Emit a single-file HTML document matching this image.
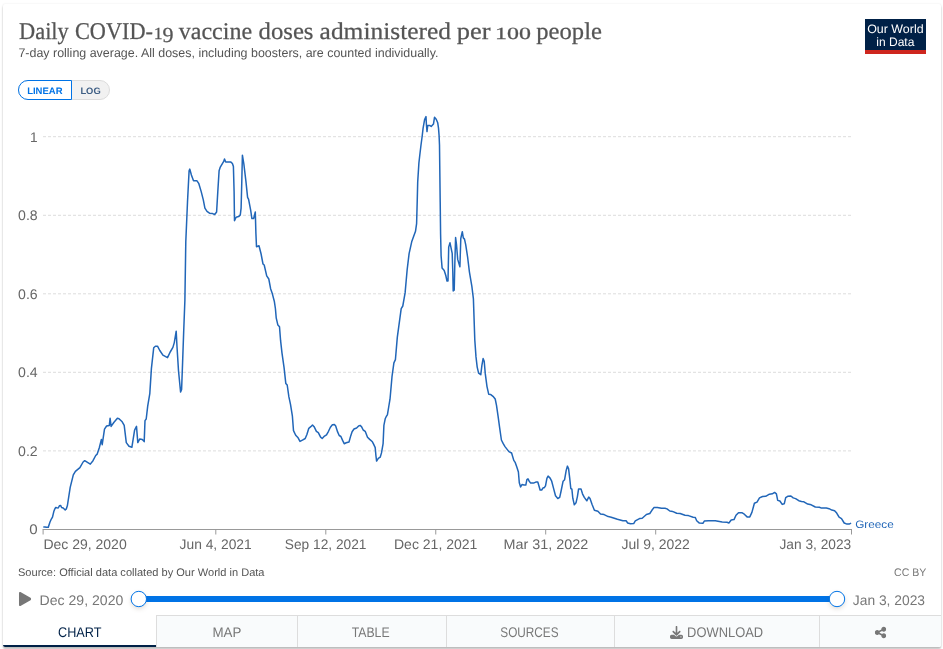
<!DOCTYPE html>
<html lang="en">
<head>
<meta charset="utf-8">
<title>Daily COVID-19 vaccine doses administered per 100 people</title>
<style>
html,body{margin:0;padding:0;background:#fff;}
body{width:943px;height:649px;position:relative;overflow:hidden;font-family:"Liberation Sans",sans-serif;color:#555;}
#frame{position:absolute;left:3px;top:4px;width:938px;height:643px;background:#fff;border-radius:2px;
  box-shadow:0 0 2px rgba(0,0,0,.1),0 2px 2px rgba(0,0,0,.25);}
svg{position:absolute;left:0;top:0;}
svg text{font-family:"Liberation Sans",sans-serif;white-space:pre;text-rendering:geometricPrecision;}
svg text.serif{font-family:"Liberation Serif",serif;}
#logo{position:absolute;left:865px;top:19px;width:61px;height:35px;background:#002147;}
#logo .red{position:absolute;left:0;right:0;bottom:0;height:4px;background:#ce261e;}
#toggle{position:absolute;left:18px;top:80px;width:92px;height:20px;border-radius:10px;background:#f1f1f1;box-sizing:border-box;border:1px solid #dcdcdc;}
#toggle .lin{position:absolute;left:-1px;top:-1px;width:54.2px;height:20px;box-sizing:border-box;border:1px solid #0073e6;border-radius:10px 0 0 10px;background:#fff;}
#tabs{position:absolute;left:3px;top:615px;width:938px;height:32px;border-radius:0 0 2px 2px;overflow:hidden;}
.tab{position:absolute;top:0;height:32px;box-sizing:border-box;background:#f9fbfc;border-top:1px solid #ddd;border-left:1px solid #ddd;}
.tab.active{background:#fff;border:0;border-bottom:2px solid #002147;}
</style>
</head>
<body>
<div id="frame"></div>
<div id="logo"><div class="red"></div></div>
<div id="toggle"><div class="lin"></div></div>
<div id="tabs">
  <div class="tab active" style="left:0;width:153px"></div>
  <div class="tab" style="left:153px;width:141px"></div>
  <div class="tab" style="left:294px;width:149px"></div>
  <div class="tab" style="left:443px;width:168px"></div>
  <div class="tab" style="left:611px;width:205px"></div>
  <div class="tab" style="left:816px;width:122px"></div>
</div>
<svg width="943" height="649" viewBox="0 0 943 649">
  <text class="serif" fill="#555" stroke="#555" stroke-width="0.25"><tspan x="19.0" y="38.7" font-size="24" textLength="49.8" lengthAdjust="spacingAndGlyphs">Daily</tspan> <tspan x="75.0" y="38.7" font-size="24" textLength="77.9" lengthAdjust="spacingAndGlyphs">COVID-</tspan><tspan x="153.7" y="38.7" font-size="17" textLength="8.9" lengthAdjust="spacingAndGlyphs">1</tspan><tspan x="162.5" y="42.3" font-size="21.5" textLength="11.0" lengthAdjust="spacingAndGlyphs">9</tspan> <tspan x="178.8" y="38.7" font-size="24" textLength="73.3" lengthAdjust="spacingAndGlyphs">vaccine</tspan> <tspan x="258.6" y="38.7" font-size="24" textLength="54.9" lengthAdjust="spacingAndGlyphs">doses</tspan> <tspan x="319.6" y="38.7" font-size="24" textLength="131.4" lengthAdjust="spacingAndGlyphs">administered</tspan> <tspan x="456.7" y="38.7" font-size="24" textLength="33.8" lengthAdjust="spacingAndGlyphs">per</tspan> <tspan x="495.1" y="38.7" font-size="17" textLength="35.9" lengthAdjust="spacingAndGlyphs">100</tspan> <tspan x="536.3" y="38.7" font-size="24" textLength="65.6" lengthAdjust="spacingAndGlyphs">people</tspan></text>
  <text x="18.4" y="57.2" font-size="12.5" fill="#545454" textLength="420.0" lengthAdjust="spacingAndGlyphs" >7-day rolling average. All doses, including boosters, are counted individually.</text>
  <text x="867.2" y="32.9" font-size="12.2" fill="#fff" textLength="56.4" lengthAdjust="spacingAndGlyphs" >Our World</text>
  <text x="876.3" y="46.1" font-size="12.2" fill="#fff" textLength="38.1" lengthAdjust="spacingAndGlyphs" >in Data</text>
  <text x="27.2" y="93.6" font-size="9.3" fill="#0073e6" textLength="35.3" lengthAdjust="spacingAndGlyphs" font-weight="bold">LINEAR</text>
  <text x="80.4" y="93.6" font-size="9.3" fill="#3f5f85" textLength="20.3" lengthAdjust="spacingAndGlyphs" font-weight="bold">LOG</text>
  <g stroke="#ddd" stroke-dasharray="3,2" stroke-width="1" fill="none"><path d="M43 136.7H851"/><path d="M43 215.3H851"/><path d="M43 293.8H851"/><path d="M43 372.3H851"/><path d="M43 450.9H851"/></g>
  <g font-family="Liberation Sans, sans-serif">
  <text x="30.1" y="141.6" font-size="14" fill="#666" textLength="7.6" lengthAdjust="spacingAndGlyphs" >1</text>
  <text x="18.1" y="220.2" font-size="14" fill="#666" textLength="19.6" lengthAdjust="spacingAndGlyphs" >0.8</text>
  <text x="18.1" y="298.7" font-size="14" fill="#666" textLength="19.6" lengthAdjust="spacingAndGlyphs" >0.6</text>
  <text x="18.1" y="377.2" font-size="14" fill="#666" textLength="19.6" lengthAdjust="spacingAndGlyphs" >0.4</text>
  <text x="18.1" y="455.8" font-size="14" fill="#666" textLength="19.6" lengthAdjust="spacingAndGlyphs" >0.2</text>
  <text x="29.3" y="534.4" font-size="14" fill="#666" textLength="8.4" lengthAdjust="spacingAndGlyphs" >0</text>
  </g>
  <path d="M42.6 529.5H852" stroke="#999" stroke-width="1" fill="none"/>
  <path d="M43.1 529.5v5M215.8 529.5v5M325.8 529.5v5M435.75 529.5v5M545.7 529.5v5M655.7 529.5v5M851.5 529.5v5" stroke="#999" stroke-width="1" fill="none"/>
  <text x="43.4" y="548.7" font-size="14" fill="#666" textLength="83.3" lengthAdjust="spacingAndGlyphs" >Dec 29, 2020</text>
  <text x="179.6" y="548.7" font-size="14" fill="#666" textLength="72.1" lengthAdjust="spacingAndGlyphs" >Jun 4, 2021</text>
  <text x="284.8" y="548.7" font-size="14" fill="#666" textLength="81.6" lengthAdjust="spacingAndGlyphs" >Sep 12, 2021</text>
  <text x="394.0" y="548.7" font-size="14" fill="#666" textLength="83.4" lengthAdjust="spacingAndGlyphs" >Dec 21, 2021</text>
  <text x="503.5" y="548.7" font-size="14" fill="#666" textLength="84.7" lengthAdjust="spacingAndGlyphs" >Mar 31, 2022</text>
  <text x="621.6" y="548.7" font-size="14" fill="#666" textLength="68.2" lengthAdjust="spacingAndGlyphs" >Jul 9, 2022</text>
  <text x="779.5" y="548.7" font-size="14" fill="#666" textLength="71.7" lengthAdjust="spacingAndGlyphs" >Jan 3, 2023</text>
  <path id="line" d="M43.3 527.0L45.0 527.0L46.3 527.3L48.3 527.3L49.9 522.2L51.0 519.7L52.5 517.2L53.8 511.6L54.6 509.4L55.7 507.5L56.9 507.8L58.2 508.0L59.4 505.8L60.7 505.5L61.6 507.5L63.2 508.0L65.2 510.0L66.3 508.9L67.4 505.5L70.2 487.4L73.3 474.9L75.4 471.3L79.9 467.6L83.1 462.0L84.7 460.7L90.3 464.1L93.0 460.7L95.7 455.5L97.2 454.1L99.3 447.8L101.4 439.5L102.2 444.7L104.5 429.1L106.6 426.0L109.3 425.4L110.1 418.3L111.1 426.4L113.8 422.5L117.4 418.3L119.0 418.7L122.2 421.8L124.2 425.4L126.3 442.6L129.0 446.2L131.9 447.2L134.6 430.2L136.5 426.4L137.8 442.6L139.8 438.9L142.3 439.5L144.2 441.6L145.0 420.6L146.2 419.0L147.7 406.1L149.8 393.6L151.4 368.6L153.7 347.8L155.4 346.2L157.5 346.2L159.8 350.5L162.9 355.1L167.5 357.6L170.2 352.0L172.9 347.4L174.3 342.6L176.2 331.2L177.0 346.8L178.5 370.7L180.6 392.1L181.6 389.4L182.6 362.4L183.7 331.2L184.9 300.0L185.8 241.5L187.5 202.0L189.1 170.8L189.8 169.1L191.4 175.0L193.5 180.8L197.0 180.8L198.7 183.3L201.2 191.6L203.3 199.9L204.9 208.2L207.0 211.4L209.5 213.2L212.6 213.6L214.7 214.5L216.6 212.0L217.8 191.6L219.1 170.8L220.3 167.1L223.7 161.4L224.5 158.9L225.7 162.1L228.2 161.9L230.9 162.1L232.4 163.5L233.4 166.6L234.1 191.6L234.5 220.7L236.1 217.2L238.6 216.6L240.3 214.9L241.1 208.2L241.8 181.2L242.4 155.2L243.8 163.5L245.9 181.2L247.6 197.4L248.6 199.3L250.7 210.3L251.9 218.6L253.6 218.6L255.3 212.0L255.9 233.2L256.5 246.7L259.0 245.7L261.1 254.0L263.0 264.0L264.2 265.0L266.7 275.8L268.8 279.0L270.6 288.7L272.1 292.9L274.3 301.2L275.4 308.5L276.2 317.8L277.9 325.1L279.5 326.8L280.6 340.7L282.0 353.2L284.1 367.8L285.8 383.4L287.2 385.0L288.9 396.9L290.5 404.4L292.4 416.2L293.5 430.6L295.7 435.2L298.1 437.8L300.0 441.4L302.9 439.8L305.2 438.5L306.9 434.5L308.8 428.3L310.8 426.7L312.5 425.0L314.1 426.7L316.4 431.3L318.3 432.6L320.6 437.2L322.2 438.5L324.5 436.1L326.5 434.8L328.5 431.3L330.4 427.3L332.4 424.7L334.4 424.5L335.7 426.0L337.6 431.9L339.2 435.5L340.9 436.5L342.6 440.4L344.2 443.7L346.2 442.8L349.0 442.0L350.7 435.9L352.1 431.7L354.0 429.0L356.6 428.0L358.6 426.0L360.2 425.4L361.5 426.7L363.2 430.0L365.2 431.3L367.5 437.2L369.7 439.4L372.4 441.8L373.7 444.4L375.2 447.6L375.9 455.5L376.6 461.1L378.3 458.4L380.2 457.2L381.5 452.9L383.1 443.7L383.9 425.4L385.2 418.8L386.4 416.2L387.4 414.9L388.7 407.0L390.0 399.2L392.0 376.7L393.9 362.8L395.4 359.7L397.3 337.4L401.2 308.6L402.8 306.0L405.1 292.9L407.2 269.3L409.1 253.6L411.7 241.8L415.5 231.3L416.6 223.7L417.2 202.1L417.7 182.0L418.9 163.0L419.8 155.0L421.0 145.0L422.2 136.0L423.1 128.1L424.6 119.6L426.0 116.6L426.4 124.3L427.0 131.6L427.7 125.6L429.6 125.4L431.2 126.4L432.3 125.2L433.5 123.9L434.5 117.3L436.2 119.2L437.7 122.7L438.5 128.1L439.1 135.8L439.5 145.0L439.8 169.8L440.2 202.1L440.6 234.5L441.1 255.7L442.1 268.1L444.2 270.5L445.8 275.5L447.0 281.0L448.0 281.0L448.7 247.1L450.0 242.8L452.2 253.3L452.8 271.8L453.2 290.9L454.2 290.2L454.9 260.7L455.6 237.5L456.5 244.6L457.7 259.4L459.9 266.8L460.8 238.5L462.3 231.7L463.3 237.9L464.5 239.1L465.7 244.6L467.6 257.0L469.4 271.8L471.9 286.6L473.4 298.9L474.8 340.0L476.0 356.9L477.2 367.1L478.6 373.1L480.8 374.7L481.9 365.4L483.1 358.6L484.2 361.2L485.3 373.9L487.0 386.6L488.7 394.2L490.8 394.6L493.0 396.3L495.2 399.0L496.5 405.3L498.1 416.3L499.7 428.1L501.4 440.0L503.1 443.4L505.0 446.6L508.9 451.6L511.6 453.0L513.8 460.4L515.3 462.7L516.9 467.3L518.4 472.0L519.3 482.8L520.6 486.9L522.0 484.6L524.0 485.1L525.8 485.1L526.9 479.7L528.0 478.9L529.2 481.2L530.7 483.1L533.5 483.1L535.8 482.1L537.8 482.0L538.9 485.8L540.1 490.0L541.7 490.0L543.1 487.8L544.3 487.7L545.5 485.8L546.9 478.4L548.1 476.1L550.1 478.1L551.7 481.2L553.5 488.1L555.5 495.8L557.8 498.5L559.7 497.4L561.2 490.5L563.1 481.2L564.6 479.7L566.2 470.4L567.4 466.1L568.6 468.9L569.7 478.1L570.8 488.5L571.9 489.2L572.8 498.2L574.3 504.8L576.0 502.8L577.4 496.6L578.6 488.9L581.0 488.9L582.5 493.8L584.3 497.4L586.8 500.8L588.7 497.1L590.0 498.6L592.0 504.3L594.4 510.2L597.9 511.2L600.5 513.9L604.1 514.6L608.2 516.6L611.2 517.2L617.4 519.3L622.9 520.8L626.1 520.8L627.7 523.0L630.5 523.8L633.7 523.6L635.3 520.9L639.5 518.6L642.2 518.2L646.4 514.5L649.8 513.5L651.9 510.3L653.9 507.6L657.4 507.4L661.5 508.3L665.0 508.3L667.0 508.9L669.8 511.0L672.5 511.4L676.7 513.2L680.1 513.5L685.0 515.3L688.4 515.6L693.2 517.2L695.3 517.5L696.7 520.7L699.4 523.1L702.9 523.3L704.3 521.1L708.4 520.7L715.3 520.8L722.2 521.9L727.0 522.3L728.9 523.0L731.2 520.0L734.0 519.6L736.0 515.2L738.5 512.8L741.8 512.7L744.3 514.2L747.1 516.9L749.8 516.9L751.9 512.4L754.4 503.2L757.0 502.1L759.5 497.9L762.5 496.5L765.7 496.3L769.4 494.2L772.3 493.8L774.6 492.4L776.4 493.8L777.7 500.4L779.9 501.0L782.2 504.4L784.3 503.7L785.7 497.6L787.7 496.3L790.9 496.0L793.2 497.9L795.6 498.6L798.8 500.7L801.5 501.5L803.9 501.8L807.7 504.1L811.2 504.8L815.3 507.0L819.4 507.3L821.5 508.1L826.3 508.0L829.1 508.7L831.8 510.1L834.6 510.7L836.7 513.1L839.1 517.2L841.5 518.6L844.2 523.0L847.0 524.1L849.1 524.1L851.1 523.1" fill="none" stroke="#2166b8" stroke-width="1.5" stroke-linejoin="round"/>
  <text x="855.2" y="527.5" font-size="10.8" fill="#2166b8" textLength="38.5" lengthAdjust="spacingAndGlyphs" >Greece</text>
  <text x="18.0" y="576" font-size="11" fill="#545454" textLength="246.5" lengthAdjust="spacingAndGlyphs" >Source: Official data collated by Our World in Data</text>
  <text x="894.0" y="576" font-size="11" fill="#777" textLength="32.3" lengthAdjust="spacingAndGlyphs" >CC BY</text>
  <svg x="18.9" y="592" width="12.25" height="14" viewBox="0 0 448 512"><path fill="#777" d="M424.400 214.700L72.400 6.600C43.800-10.300 0 6.100 0 47.900V464c0 37.500 40.700 60.100 72.400 41.300l352-208c31.400-18.500 31.500-64.100 0-82.600z"/></svg>
  <text x="39.6" y="604.7" font-size="14" fill="#777" textLength="83.7" lengthAdjust="spacingAndGlyphs" >Dec 29, 2020</text>
  <text x="852.8" y="604.7" font-size="14" fill="#777" textLength="72.2" lengthAdjust="spacingAndGlyphs" >Jan 3, 2023</text>
  <rect x="139" y="596" width="698" height="6" fill="#0073e6"/>
  <g style="filter:drop-shadow(0 2px 2px rgba(90,60,30,.16))"><circle cx="138.8" cy="599" r="7.7" fill="#fff" stroke="#0073e6" stroke-width="1"/><circle cx="837" cy="599" r="7.7" fill="#fff" stroke="#0073e6" stroke-width="1"/></g>
  <text x="58.0" y="637.1" font-size="14" fill="#002147" textLength="43.4" lengthAdjust="spacingAndGlyphs" >CHART</text>
  <text x="212.5" y="637.1" font-size="14" fill="#777" textLength="28.9" lengthAdjust="spacingAndGlyphs" >MAP</text>
  <text x="351.7" y="637.1" font-size="14" fill="#777" textLength="37.9" lengthAdjust="spacingAndGlyphs" >TABLE</text>
  <text x="500.3" y="637.1" font-size="14" fill="#777" textLength="58.2" lengthAdjust="spacingAndGlyphs" >SOURCES</text>
  <text x="687.1" y="637.1" font-size="14" fill="#777" textLength="76.0" lengthAdjust="spacingAndGlyphs" >DOWNLOAD</text>
  <svg x="670" y="625.9" width="13" height="13" viewBox="0 0 512 512"><path fill="#777" d="M288 32c0-17.700-14.300-32-32-32s-32 14.300-32 32V274.700l-73.400-73.400c-12.500-12.500-32.800-12.500-45.300 0s-12.500 32.800 0 45.300l128 128c12.500 12.500 32.800 12.500 45.300 0l128-128c12.500-12.500 12.500-32.800 0-45.300s-32.800-12.500-45.300 0L288 274.700V32zM64 352c-35.300 0-64 28.700-64 64v32c0 35.300 28.700 64 64 64H448c35.300 0 64-28.700 64-64V416c0-35.300-28.700-64-64-64H346.500l-45.300 45.300c-25 25-65.500 25-90.500 0L165.500 352H64zm368 56a24 24 0 1 1 0 48 24 24 0 1 1 0-48z"/></svg>
  <svg x="874.8" y="626" width="11.4" height="13.030" viewBox="0 0 448 512"><path fill="#777" d="M352 224c53 0 96-43 96-96s-43-96-96-96s-96 43-96 96c0 4 .2 8 .7 11.900l-94.100 47C145.400 170.200 121.900 160 96 160c-53 0-96 43-96 96s43 96 96 96c25.900 0 49.400-10.200 66.600-26.900l94.100 47c-.5 3.900-.7 7.800-.7 11.900c0 53 43 96 96 96s96-43 96-96s-43-96-96-96c-25.900 0-49.400 10.200-66.600 26.900l-94.100-47c.5-3.900 .7-7.800 .7-11.900s-.2-8-.7-11.900l94.100-47C302.600 213.800 326.100 224 352 224z"/></svg>
</svg>
</body>
</html>
